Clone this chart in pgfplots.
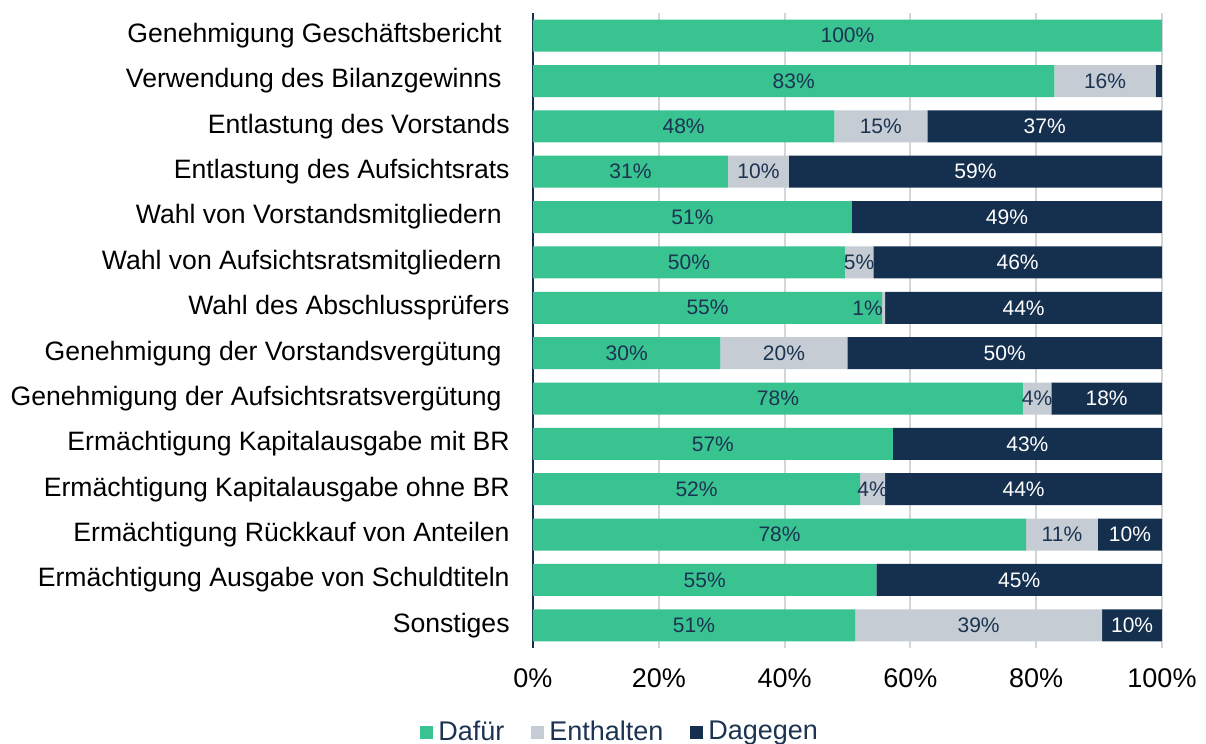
\documentclass[border=0pt]{standalone}
\usepackage{fontspec}
\setmainfont{Liberation Sans}
\usepackage{pgfplots}
\usepackage{pgfplotstable}
\pgfplotsset{compat=1.18}

\definecolor{cgreen}{HTML}{38C391}
\definecolor{cgray}{HTML}{C5CCD3}
\definecolor{cnavy}{HTML}{15304F}
\definecolor{ctext}{HTML}{1C3352}
\definecolor{cgrid}{HTML}{D1D6DB}

% y: position from bottom; *l: bar label; enoff: label nudge (pt)
\pgfplotstableread{
y  fa    fal      en    enl      enoff da    dal
13 100   {100\%}  0     {}       0     0     {}
12 82.9  {83\%}   16.1  {16\%}   0     1.0   {}
11 47.9  {48\%}   14.8  {15\%}   0     37.3  {37\%}
10 31.0  {31\%}   9.7   {10\%}   0     59.3  {59\%}
9  50.7  {51\%}   0     {}       0     49.3  {49\%}
8  49.6  {50\%}   4.5   {5\%}    0     45.9  {46\%}
7  55.5  {55\%}   0.5   {1\%}    -8    44.0  {44\%}
6  29.8  {30\%}   20.2  {20\%}   0     50.0  {50\%}
5  77.9  {78\%}   4.5   {4\%}    0     17.6  {18\%}
4  57.2  {57\%}   0     {}       0     42.8  {43\%}
3  52.0  {52\%}   4.0   {4\%}    0     44.0  {44\%}
2  78.4  {78\%}   11.4  {11\%}   0     10.2  {10\%}
1  54.6  {55\%}   0     {}       0     45.4  {45\%}
0  51.2  {51\%}   39.3  {39\%}   0     9.5   {10\%}
}\votes

\begin{document}
\begin{tikzpicture}
\begin{axis}[
    xbar stacked,
    scale only axis,
    width=314.5pt, height=317.5pt,
    bar width=16pt,
    xmin=0, xmax=100,
    ymin=-0.5, ymax=13.5,
    xtick={0,20,40,60,80,100},
    xticklabels={0\%,20\%,40\%,60\%,80\%,100\%},
    ytick={0,...,13},
    yticklabels={
      Sonstiges,
      Ermächtigung Ausgabe von Schuldtiteln,
      Ermächtigung Rückkauf von Anteilen,
      Ermächtigung Kapitalausgabe ohne BR,
      Ermächtigung Kapitalausgabe mit BR,
      Genehmigung der Aufsichtsratsvergütung\hspace*{4pt},
      Genehmigung der Vorstandsvergütung\hspace*{4pt},
      Wahl des Abschlussprüfers,
      Wahl von Aufsichtsratsmitgliedern\hspace*{4pt},
      Wahl von Vorstandsmitgliedern\hspace*{4pt},
      Entlastung des Aufsichtsrats,
      Entlastung des Vorstands,
      Verwendung des Bilanzgewinns\hspace*{4pt},
      Genehmigung Geschäftsbericht\hspace*{4pt}
    },
    major tick length=0pt,
    axis line style={draw=none},
    xmajorgrids,
    grid style={draw=cgrid, line width=1pt},
    extra x ticks={0},
    extra x tick labels={},
    extra x tick style={grid style={draw=cnavy, line width=1.2pt}},
    xticklabel style={font=\fontsize{13.5}{16}\selectfont, text=black,
      anchor=north, inner sep=0pt, yshift=-10pt},
    yticklabel style={font=\fontsize{13.3}{16}\selectfont, text=black,
      anchor=east, inner sep=0pt, xshift=-11.5pt},
    point meta=explicit symbolic,
    nodes near coords={\pgfplotspointmeta},
    nodes near coords align={center},
    every node near coord/.append style={anchor=center, inner sep=0pt,
      font=\fontsize{10.5}{12}\selectfont, text=ctext},
    legend columns=-1,
    legend style={at={(0.137,-0.1323)}, anchor=center,
      draw=none, fill=none, font=\fontsize{13.5}{15}\selectfont,
      text=ctext, nodes={inner xsep=0pt},
      /tikz/every odd column/.append style={column sep=2.5pt},
      /tikz/every even column/.append style={column sep=13.5pt}},
    legend image code/.code={\fill[#1] (0pt,-3.25pt) rectangle (6.5pt,3.25pt);},
]
\addplot[fill=cgreen, draw=none] table[x=fa, y=y, meta=fal] {\votes};
\addlegendentry{Dafür}
\addplot[fill=cgray, draw=none,
    visualization depends on={\thisrow{enoff} \as \off},
    every node near coord/.append style={xshift={\off*1pt}}]
  table[x=en, y=y, meta=enl] {\votes};
\addlegendentry{Enthalten}
\addplot[fill=cnavy, draw=none,
    every node near coord/.append style={text=white}]
  table[x=da, y=y, meta=dal] {\votes};
\addlegendentry{Dagegen}
\end{axis}
\pgfresetboundingbox
\path (current axis.south west) ++(-266.5pt,-48pt) rectangle ++(603pt,372pt);
\end{tikzpicture}
\end{document}
